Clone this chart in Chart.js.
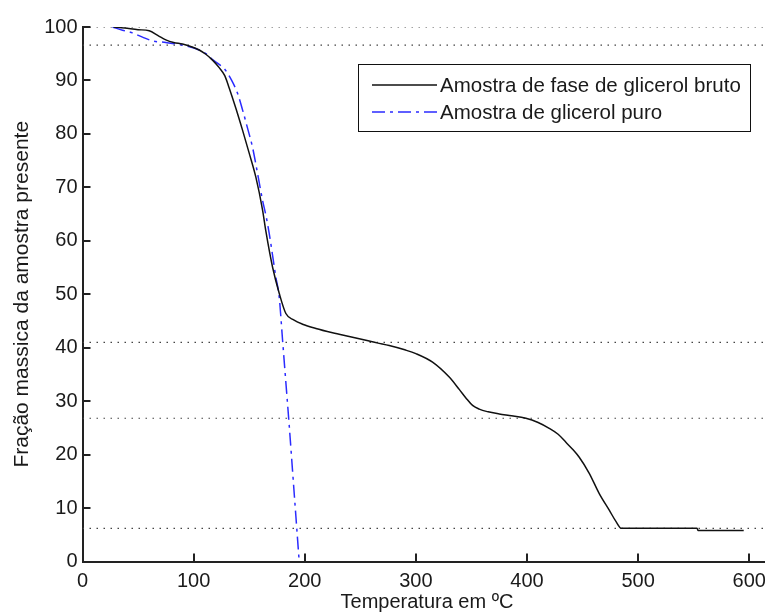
<!DOCTYPE html>
<html>
<head>
<meta charset="utf-8">
<script src="https://cdn.jsdelivr.net/npm/chart.js@4.4.1/dist/chart.umd.min.js"></script>
<style>
    html, body { margin: 0; padding: 0; background: #fff; overflow: hidden; }
    #wrap { width: 800px; height: 614px; position: relative; }
</style>
</head>
<body>
<div id="wrap"><canvas id="tga"></canvas></div>
<script>
// amostra de fase de glicerol bruto
const tempBruto = [28, 38, 50, 60, 68, 75, 82, 90, 98, 105, 111, 117, 123, 128, 132, 138, 144, 150, 156, 162, 165, 171, 177, 183, 190, 198, 210, 225, 240, 255, 265, 276, 290, 300, 315, 330, 339, 345, 351, 357, 365, 375, 384, 399, 410, 420, 428, 435, 441, 447, 456, 465, 474, 480, 485, 553, 554, 595];
const massaBruto = [100, 99.8, 99.5, 99.3, 98.4, 97.6, 97.1, 96.8, 96.3, 95.7, 94.9, 93.8, 92.4, 90.9, 88.6, 84.8, 80.7, 76.4, 71.9, 65.8, 61.8, 55.1, 50.2, 46.4, 45.2, 44.4, 43.6, 42.8, 42.1, 41.4, 40.9, 40.4, 39.6, 38.9, 37.3, 34.5, 32.2, 30.6, 29.2, 28.5, 28.0, 27.6, 27.3, 26.8, 26.0, 24.9, 23.8, 22.3, 21.0, 19.5, 16.5, 12.7, 9.6, 7.5, 6.2, 6.2, 5.8, 5.8];

// amostra de glicerol puro
const tempPuro = [27, 36, 45, 54, 63, 75, 90, 105, 111, 117, 123, 128, 134, 139.5, 144, 149, 153, 157, 162, 165, 168, 174, 177, 180, 183, 186, 189, 192, 195];
const massaPuro = [100, 99.4, 98.9, 98.1, 97.4, 97.1, 96.6, 95.7, 95.0, 93.9, 93.0, 92.1, 90.1, 87.6, 84.5, 80.7, 77.5, 73.2, 67.6, 64.8, 61.4, 53.2, 49.5, 41.5, 33.5, 25.5, 17, 8.5, 0];

// linhas pontilhadas horizontais
const niveis = [100, 96.6, 41, 26.8, 6.2];

const xTicks = [0, 100, 200, 300, 400, 500, 600];
const yTicks = [0, 10, 20, 30, 40, 50, 60, 70, 80, 90, 100];

function pontos(xs, ys) {
    let out = [];
    for (let i = 0; i < xs.length; i++) {
        out.push({x: xs[i], y: ys[i]});
    }
    return out;
}

Chart.defaults.font.family = "'Liberation Sans', Arial, sans-serif";
Chart.defaults.font.size = 20;
Chart.defaults.color = "#1a1a1a";

let datasets = [{
    label: "Amostra de fase de glicerol bruto",
    data: pontos(tempBruto, massaBruto),
    borderColor: "#111111",
    borderWidth: 1.5,
    pointRadius: 0,
    cubicInterpolationMode: "monotone"
}, {
    label: "Amostra de glicerol puro",
    data: pontos(tempPuro, massaPuro),
    borderColor: "#2b2bff",
    borderWidth: 1.5,
    borderDash: [13, 5, 3, 5],
    pointRadius: 0,
    cubicInterpolationMode: "monotone"
}];

for (let i = 0; i < niveis.length; i++) {
    datasets.push({
        label: "",
        data: [{x: 0, y: niveis[i]}, {x: 700, y: niveis[i]}],
        borderColor: "#444444",
        borderWidth: 1.2,
        borderDash: [1.5, 5.5],
        pointRadius: 0
    });
}

// ticks para dentro, como no MATLAB
const innerTicks = {
    id: "innerTicks",
    afterDraw(chart) {
        const ctx = chart.ctx;
        const area = chart.chartArea;
        const sx = chart.scales.x;
        const sy = chart.scales.y;
        ctx.save();
        ctx.setLineDash([]);
        ctx.strokeStyle = "#222";
        ctx.lineWidth = 2;
        ctx.beginPath();
        xTicks.forEach(v => {
            const px = Math.round(sx.getPixelForValue(v));
            ctx.moveTo(px, area.bottom);
            ctx.lineTo(px, area.bottom - 8);
        });
        yTicks.forEach(v => {
            const py = Math.round(sy.getPixelForValue(v));
            ctx.moveTo(area.left, py);
            ctx.lineTo(area.left + 8, py);
        });
        ctx.stroke();
        ctx.restore();
    }
};

// legenda em caixa dentro do grafico
const boxLegend = {
    id: "boxLegend",
    afterDraw(chart) {
        const ctx = chart.ctx;
        const left = 358.5, top = 64.5, w = 392, h = 67;
        ctx.save();
        ctx.fillStyle = "#fff";
        ctx.fillRect(left, top, w, h);
        ctx.strokeStyle = "#111";
        ctx.lineWidth = 1;
        ctx.setLineDash([]);
        ctx.strokeRect(left, top, w, h);
        const rows = [85, 112];
        for (let i = 0; i < 2; i++) {
            const ds = chart.data.datasets[i];
            ctx.strokeStyle = ds.borderColor;
            ctx.lineWidth = ds.borderWidth;
            ctx.setLineDash(ds.borderDash || []);
            ctx.beginPath();
            ctx.moveTo(372, rows[i]);
            ctx.lineTo(437, rows[i]);
            ctx.stroke();
            ctx.setLineDash([]);
            ctx.fillStyle = "#1a1a1a";
            ctx.font = "20.5px 'Liberation Sans', Arial, sans-serif";
            ctx.textBaseline = "middle";
            ctx.textAlign = "left";
            ctx.fillText(ds.label, 440, rows[i] + 1);
        }
        ctx.restore();
    }
};

window.addEventListener("DOMContentLoaded", () => {
    new Chart(document.getElementById("tga"), {
        type: "line",
        data: {datasets: datasets},
        plugins: [innerTicks, boxLegend],
        options: {
            responsive: true,
            maintainAspectRatio: false,
            animation: false,
            layout: {padding: {left: 0, top: 27, right: 28.5, bottom: 0}},
            plugins: {
                legend: {display: false},
                tooltip: {enabled: false}
            },
            scales: {
                x: {
                    type: "linear",
                    min: 0,
                    max: 620,
                    afterFit: s => { s.height = 52.5; },
                    afterBuildTicks: s => { s.ticks = xTicks.map(v => ({value: v})); },
                    grid: {display: false, tickLength: 0},
                    border: {display: true, color: "#222", width: 2},
                    ticks: {padding: 8, maxRotation: 0},
                    title: {display: true, text: "Temperatura em ºC", padding: {top: 0, bottom: 0}}
                },
                y: {
                    min: 0,
                    max: 100,
                    afterFit: s => { s.width = 82.5; },
                    afterBuildTicks: s => { s.ticks = yTicks.map(v => ({value: v})); },
                    grid: {display: false, tickLength: 0},
                    border: {display: true, color: "#222", width: 2},
                    ticks: {padding: 5},
                    title: {display: true, text: "Fração massica da amostra presente", font: {size: 21}, padding: {top: 10, bottom: 0}}
                }
            }
        }
    });
});
</script>
</body>
</html>
